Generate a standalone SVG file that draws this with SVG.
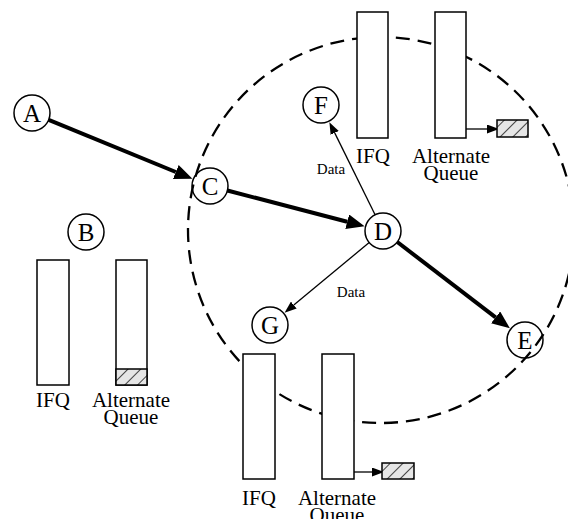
<svg xmlns="http://www.w3.org/2000/svg" width="568" height="519" viewBox="0 0 568 519" font-family="Liberation Serif, Times New Roman, DejaVu Serif, serif">
<style>
text{font-family:"Liberation Serif","Times New Roman","DejaVu Serif",serif}
.node{fill:none;stroke:#000;stroke-width:1.5}
.lbl{font-size:25px;text-anchor:middle;fill:#000}
.q{fill:#fff;stroke:#000;stroke-width:1.5}
.hat{fill:url(#hatch);stroke:#000;stroke-width:1.5}
.qt{font-size:21px;text-anchor:middle;fill:#000}
.data{font-size:15px;text-anchor:middle;fill:#000}
.thick{stroke:#000;stroke-width:4;fill:none}
.thin{stroke:#000;stroke-width:1.3;fill:none}
</style>
<defs>
<marker id="big" markerUnits="userSpaceOnUse" markerWidth="18" markerHeight="15" refX="0" refY="7.5" orient="auto"><path d="M0,0 L18,7.5 L0,15 z" fill="#000"/></marker>
<marker id="small" markerUnits="userSpaceOnUse" markerWidth="12" markerHeight="9" refX="0" refY="4.5" orient="auto"><path d="M0,0 L12,4.5 L0,9 z" fill="#000"/></marker>
<pattern id="hatch" patternUnits="userSpaceOnUse" width="9" height="9" patternTransform="rotate(45)">
<rect width="9" height="9" fill="#e6e6e6"/>
<line x1="0" y1="0" x2="0" y2="9" stroke="#444" stroke-width="2"/>
</pattern>
</defs>
<rect width="568" height="519" fill="#fff"/>
<circle id="range" cx="381" cy="230" r="193" fill="none" stroke="#000" stroke-width="2.3" stroke-dasharray="14,8"/>
<g id="connectors">
<line class="thick" x1="48.7" y1="119.8" x2="175.8" y2="172" marker-end="url(#big)"/>
<line class="thick" x1="227.4" y1="190.5" x2="347.2" y2="221.7" marker-end="url(#big)"/>
<line class="thick" x1="397.3" y1="242" x2="495.6" y2="317.4" marker-end="url(#big)"/>
<line class="thin" x1="375.1" y1="214.8" x2="334.7" y2="132.9" marker-end="url(#small)"/>
<line class="thin" x1="369.2" y1="242.5" x2="293.8" y2="305.1" marker-end="url(#small)"/>
<text class="data" x="331" y="174">Data</text>
<text class="data" x="351" y="297">Data</text>
</g>
<g id="A"><circle class="node" cx="32" cy="113" r="18"/><text class="lbl" x="32" y="122">A</text></g>
<g id="B"><circle class="node" cx="86" cy="232" r="18"/><text class="lbl" x="86" y="241">B</text></g>
<g id="C"><circle class="node" cx="210" cy="186" r="18"/><text class="lbl" x="210" y="195">C</text></g>
<g id="D"><circle class="node" cx="383" cy="231" r="18"/><text class="lbl" x="383" y="240">D</text></g>
<g id="E"><circle class="node" cx="525" cy="340" r="18"/><text class="lbl" x="525" y="349">E</text></g>
<g id="F"><circle class="node" cx="321" cy="105" r="18"/><text class="lbl" x="321" y="114">F</text></g>
<g id="G"><circle class="node" cx="270" cy="325" r="18"/><text class="lbl" x="270" y="334">G</text></g>
<g id="queuesB">
<rect class="q" x="37" y="260" width="32" height="125"/>
<rect class="q" x="116" y="260" width="31" height="125"/>
<rect class="hat" x="116" y="369" width="31" height="16"/>
<text class="qt" x="53" y="407">IFQ</text>
<text class="qt" x="131" y="407">Alternate</text>
<text class="qt" x="131" y="424">Queue</text>
</g>
<g id="queuesF">
<rect class="q" x="357" y="12" width="31" height="126"/>
<rect class="q" x="435" y="12" width="31" height="126"/>
<line class="thin" x1="466" y1="129" x2="487" y2="129" marker-end="url(#small)"/>
<rect class="hat" x="497" y="120" width="31" height="17"/>
<text class="qt" x="373" y="163">IFQ</text>
<text class="qt" x="451" y="163">Alternate</text>
<text class="qt" x="451" y="180">Queue</text>
</g>
<g id="queuesG">
<rect class="q" x="243" y="354" width="32" height="125"/>
<rect class="q" x="322" y="354" width="32" height="125"/>
<line class="thin" x1="354" y1="472" x2="372" y2="472" marker-end="url(#small)"/>
<rect class="hat" x="382" y="463" width="32" height="16"/>
<text class="qt" x="259" y="505">IFQ</text>
<text class="qt" x="337" y="505">Alternate</text>
<text class="qt" x="337" y="522">Queue</text>
</g>
</svg>
